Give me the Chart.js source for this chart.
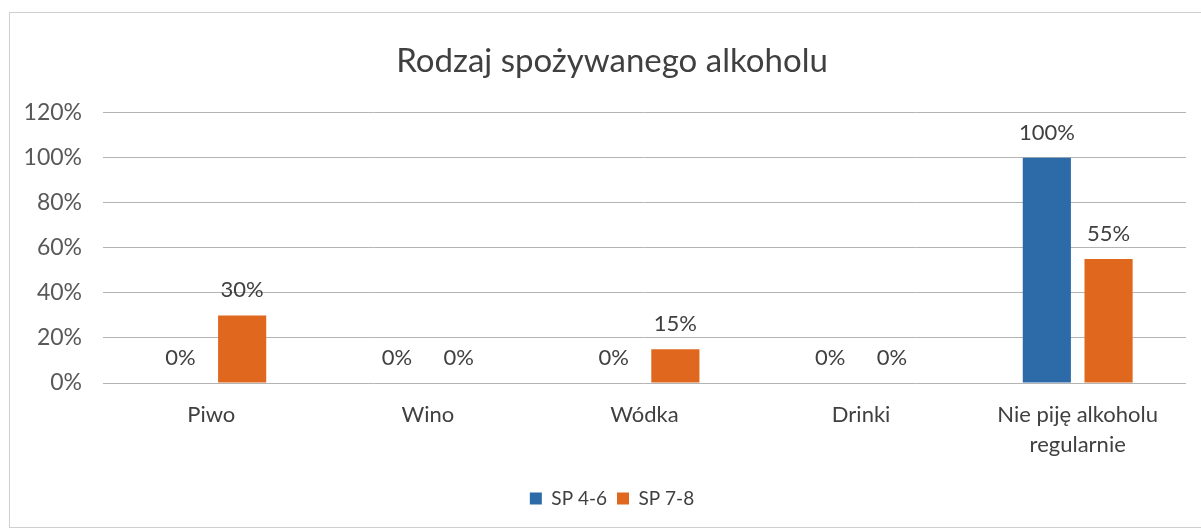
<!DOCTYPE html>
<html lang="pl">
<head>
  <meta charset="UTF-8">
  <title>Rodzaj spożywanego alkoholu</title>
  <style>
    html, body {
      margin: 0;
      padding: 0;
      background: #ffffff;
      overflow: hidden;
      width: 1201px;
      height: 530px;
    }

    .chart-box {
      position: absolute;
      left: 9px;
      top: 12px;
      width: 1206px;
      height: 514px;
      border: 1px solid #cfcfcf;
      border-right: none;
      background: #ffffff;
    }
  </style>
</head>
<body>
  <div class="chart-box">
    <canvas id="alkoholChart"></canvas>
  </div>

  <script src="https://cdn.jsdelivr.net/npm/chart.js"></script>
  <script>
    // dane z wykresu
    const kategorie = ['Piwo', 'Wino', 'Wódka', 'Drinki', ['Nie piję alkoholu', 'regularnie']];
    const sp46 = [0, 0, 0, 0, 100];
    const sp78 = [30, 0, 15, 0, 55];
    const tickiY = [0, 20, 40, 60, 80, 100, 120];

    const kolorTekstu = '#404040';

    // etykiety nad słupkami (zamiast pluginu datalabels)
    const etykietyPlugin = {
      id: 'etykiety',
      afterDatasetsDraw(chart) {
        const ctx = chart.ctx;
        ctx.save();
        ctx.font = '22px Lato, sans-serif';
        ctx.fillStyle = kolorTekstu;
        ctx.textAlign = 'center';
        ctx.textBaseline = 'middle';
        chart.data.datasets.forEach((ds, i) => {
          chart.getDatasetMeta(i).data.forEach((bar, j) => {
            ctx.fillText(ds.data[j] + '%', bar.x, bar.y - 25);
          });
        });
        ctx.restore();
      }
    };

    const ctx = document.getElementById('alkoholChart').getContext('2d');
    new Chart(ctx, {
      type: 'bar',
      data: {
        labels: kategorie,
        datasets: [
          {
            label: 'SP 4-6',
            data: sp46,
            backgroundColor: '#2C6BA7'
          },
          {
            label: 'SP 7-8',
            data: sp78,
            backgroundColor: '#E0671E'
          }
        ]
      },
      options: {
        responsive: true,
        maintainAspectRatio: false,
        animation: false,
        layout: {
          padding: { left: 0, right: 2, top: 0, bottom: 9 }
        },
        datasets: {
          bar: {
            categoryPercentage: 0.57,
            barPercentage: 0.78
          }
        },
        plugins: {
          title: {
            display: true,
            text: 'Rodzaj spożywanego alkoholu',
            color: kolorTekstu,
            font: { family: 'Lato, sans-serif', size: 33, weight: 'normal' },
            padding: { top: 29, bottom: 31 }
          },
          legend: {
            position: 'bottom',
            labels: {
              color: kolorTekstu,
              font: { family: 'Lato, sans-serif', size: 19 },
              boxWidth: 12,
              boxHeight: 12,
              padding: 10
            }
          },
          tooltip: { enabled: false }
        },
        scales: {
          x: {
            grid: { display: false },
            border: { display: false },
            ticks: {
              color: kolorTekstu,
              font: { family: 'Lato, sans-serif', size: 22, lineHeight: 1.36 },
              padding: 9,
              maxRotation: 0
            },
            afterFit(scale) { scale.height = 96; }
          },
          y: {
            min: 0,
            max: 120,
            afterBuildTicks(scale) {
              scale.ticks = tickiY.map(v => ({ value: v }));
            },
            grid: { color: '#b4b4b4', drawTicks: false },
            border: { display: false },
            ticks: {
              color: '#595959',
              font: { family: 'Lato, sans-serif', size: 23 },
              padding: 21,
              callback: v => v + '%'
            },
            afterFit(scale) { scale.width = 93; }
          },
          // pusty margines po prawej, żeby tytuł i legenda były jak w oryginale
          prawy: {
            position: 'right',
            min: 0,
            max: 120,
            grid: { display: false },
            border: { display: false },
            ticks: { display: false },
            afterFit(scale) { scale.width = 28; }
          }
        }
      },
      plugins: [etykietyPlugin]
    });
  </script>
</body>
</html>
